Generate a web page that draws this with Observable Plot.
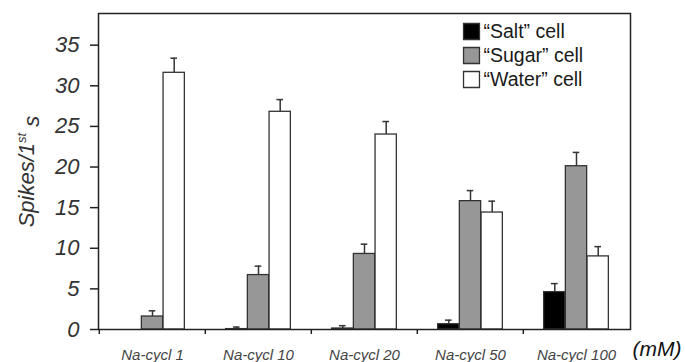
<!DOCTYPE html>
<html>
<head>
<meta charset="utf-8">
<script src="https://cdn.jsdelivr.net/npm/d3@7"></script>
<script src="https://cdn.jsdelivr.net/npm/@observablehq/plot@0.6"></script>
<style>
  html, body { margin: 0; padding: 0; background: #fff; }
  #chart svg { display: block; }
</style>
</head>
<body>
<div id="chart"></div>
<script>
// ---- data ----
const categories = ["Na-cycl 1", "Na-cycl 10", "Na-cycl 20", "Na-cycl 50", "Na-cycl 100"];
const seriesNames = ["\u201CSalt\u201D cell", "\u201CSugar\u201D cell", "\u201CWater\u201D cell"];
const saltMean  = [null, 0.05, 0.12, 0.65, 4.6];
const saltErr   = [null, 0.25, 0.35, 0.5, 1.05];
const sugarMean = [1.6, 6.7, 9.3, 15.8, 20.1];
const sugarErr  = [0.7, 1.1, 1.2, 1.3, 1.7];
const waterMean = [31.6, 26.8, 24.0, 14.4, 9.0];
const waterErr  = [1.8, 1.5, 1.6, 1.4, 1.2];
const yTicks = [0, 5, 10, 15, 20, 25, 30, 35];
const yLabel = "Spikes/1st s";
const unitLabel = "(mM)";

const means = [saltMean, sugarMean, waterMean];
const errs = [saltErr, sugarErr, waterErr];
const fills = ["#000000", "#979797", "#ffffff"];

const rows = categories.flatMap((c, i) =>
  seriesNames.map((s, j) => ({cat: c, series: s, j, mean: means[j][i], se: errs[j][i]}))
);

// ---- layout ----
const W = 685, H = 362, ml = 98, mr = 55, mt = 13, mb = 33;
const bw = (W - ml - mr) / categories.length;
const barW = 21.7;
const inset = (bw - barW) / 2;
const capInset = bw / 2 - 3.5;

const marks = [];
seriesNames.forEach((s, j) => {
  const d = rows.filter(r => r.j === j && r.mean != null);
  const dx = (j - 1) * barW;
  marks.push(
    Plot.ruleX(d, {x: "cat", y1: "mean", y2: r => r.mean + r.se, dx, stroke: "#333", strokeWidth: 1.5}),
    Plot.tickY(d, {x: "cat", y: r => r.mean + r.se, dx, insetLeft: capInset, insetRight: capInset, stroke: "#333", strokeWidth: 1.5}),
    Plot.barY(d, {x: "cat", y: "mean", dx, insetLeft: inset, insetRight: inset, fill: fills[j], stroke: "#333", strokeWidth: 1.3})
  );
  // legend rows
  marks.push(
    Plot.dot([s], {frameAnchor: "top-right", dx: -159, dy: 18 + 24 * j, symbol: "square", r: 9, fill: fills[j], stroke: "#333", strokeWidth: 1.3}),
    Plot.text([s], {text: t => t, frameAnchor: "top-right", dx: -147, dy: 18 + 24 * j, textAnchor: "start", lineAnchor: "middle", fontSize: 19.5, fill: "#1a1a1a"})
  );
});

const chart = Plot.plot({
  width: W,
  height: H,
  marginLeft: ml,
  marginRight: mr,
  marginTop: mt,
  marginBottom: mb,
  style: {fontFamily: "Arial, 'Liberation Sans', sans-serif", background: "#fff", overflow: "visible"},
  x: {domain: categories, paddingInner: 0, paddingOuter: 0, axis: null},
  y: {domain: [0, 38.9], axis: null},
  marks: [
    ...marks,
    Plot.frame({stroke: "#222", strokeWidth: 1.5}),
    Plot.axisY({ticks: yTicks, tickSize: 8, tickPadding: 11, fontSize: 22, fontStyle: "italic", fill: "#333", stroke: "#222", strokeWidth: 1.5, label: null}),
    Plot.axisX({tickSize: 0, tickPadding: 20, fontSize: 15, fontStyle: "italic", fill: "#444", letterSpacing: "0.6px", label: null}),
    Plot.axisX({tickSize: 5, tickFormat: () => "", dx: -bw / 2, stroke: "#222", strokeWidth: 1.5, label: null}),
    Plot.text([yLabel], {text: t => t, frameAnchor: "left", dx: -72, rotate: -90, textAnchor: "middle", lineAnchor: "middle", fontSize: 22, fontStyle: "italic", fill: "#333"}),
    Plot.text([unitLabel], {text: t => t, frameAnchor: "bottom-right", dx: 2, dy: 20, textAnchor: "start", lineAnchor: "middle", fontSize: 21, fontStyle: "italic", fill: "#111"})
  ]
});

// superscript "st" in the y label
chart.querySelectorAll("text").forEach(t => {
  if (t.textContent === yLabel) {
    t.textContent = "";
    const ns = "http://www.w3.org/2000/svg";
    const a = document.createElementNS(ns, "tspan"); a.textContent = "Spikes/1";
    const b = document.createElementNS(ns, "tspan"); b.textContent = "st"; b.setAttribute("font-size", "13"); b.setAttribute("dy", "-0.55em");
    const c = document.createElementNS(ns, "tspan"); c.textContent = " s"; c.setAttribute("dy", "0.55em");
    t.append(a, b, c);
  }
});

document.getElementById("chart").appendChild(chart);
</script>
</body>
</html>
